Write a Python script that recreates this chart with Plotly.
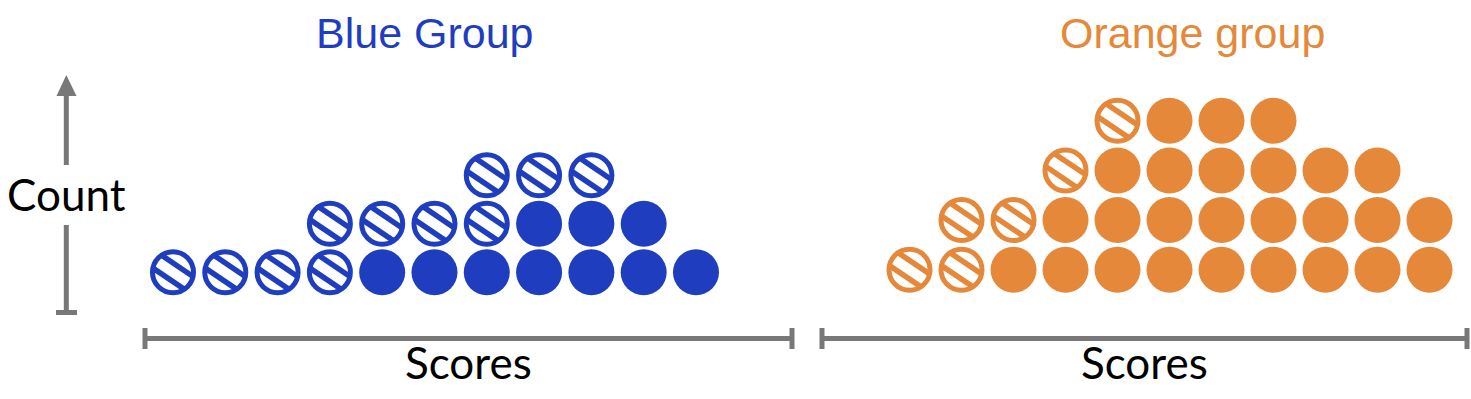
import plotly.graph_objects as go

# ---- data ----
columns = list(range(11))  # score bins
blue_filled = [0, 0, 0, 0, 1, 1, 1, 2, 2, 2, 1]
blue_hatched = [1, 1, 1, 2, 1, 1, 2, 1, 1, 0, 0]
orange_filled = [0, 0, 1, 2, 3, 4, 4, 4, 3, 3, 2]
orange_hatched = [1, 2, 1, 1, 1, 0, 0, 0, 0, 0, 0]

group_titles = ["Blue Group", "Orange group"]
x_label = "Scores"
y_label = "Count"

BLUE = "#1F3EBF"
ORANGE = "#E58839"
GRAY = "#787878"
W, H = 1471, 399


def stack_points(filled, hatched):
    fx, fy, hx, hy = [], [], [], []
    for c, nf, nh in zip(columns, filled, hatched):
        for k in range(nf):
            fx.append(c); fy.append(k + 1)
        for k in range(nh):
            hx.append(c); hy.append(nf + k + 1)
    return fx, fy, hx, hy


fig = go.Figure()

groups = [(blue_filled, blue_hatched, BLUE, "x", "y"),
          (orange_filled, orange_hatched, ORANGE, "x2", "y2")]
for filled, hatched, col, xa, ya in groups:
    fx, fy, hx, hy = stack_points(filled, hatched)
    fig.add_trace(go.Scatter(x=fx, y=fy, mode="markers", xaxis=xa, yaxis=ya,
                             marker=dict(symbol="circle", size=46, color=col, line=dict(width=0)),
                             hoverinfo="skip", showlegend=False))
    # hatched: thick diagonal band, white centre band, ring on top
    fig.add_trace(go.Scatter(x=hx, y=hy, mode="markers", xaxis=xa, yaxis=ya,
                             marker=dict(symbol="line-nw", size=26, color=col, angle=-11,
                                         line=dict(width=21, color=col)),
                             hoverinfo="skip", showlegend=False))
    fig.add_trace(go.Scatter(x=hx, y=hy, mode="markers", xaxis=xa, yaxis=ya,
                             marker=dict(symbol="line-nw", size=30, color="white", angle=-11,
                                         line=dict(width=10, color="white")),
                             hoverinfo="skip", showlegend=False))
    fig.add_trace(go.Scatter(x=hx, y=hy, mode="markers", xaxis=xa, yaxis=ya,
                             marker=dict(symbol="circle-open", size=41, color=col,
                                         line=dict(width=5, color=col)),
                             hoverinfo="skip", showlegend=False))


def py(p):
    return 1 - p / H


def pxx(p):
    return p / W


axis_common = dict(showgrid=False, zeroline=False, showticklabels=False, ticks="",
                   showline=False, fixedrange=True)
fig.update_layout(
    width=W, height=H,
    margin=dict(l=0, r=0, t=0, b=0),
    paper_bgcolor="white", plot_bgcolor="white",
    xaxis=dict(domain=[145 / W, 792 / W], range=[-0.535, 11.836], **axis_common),
    xaxis2=dict(domain=[822 / W, 1467 / W], range=[-1.683, 10.721], **axis_common),
    yaxis=dict(domain=[0, 1], range=[-1.612, 6.614], anchor="x", **axis_common),
    yaxis2=dict(domain=[0, 1], range=[-1.600, 6.429], anchor="x2", **axis_common),
)

shapes = []
for xr in ["x domain", "x2 domain"]:
    shapes.append(dict(type="line", xref=xr, yref="paper", x0=0, x1=1,
                       y0=py(338.5), y1=py(338.5), line=dict(color=GRAY, width=5)))
    for xe in [0, 1]:
        shapes.append(dict(type="line", xref=xr, yref="paper", x0=xe, x1=xe,
                           y0=py(328), y1=py(349), line=dict(color=GRAY, width=5)))
# Count arrow
shapes.append(dict(type="line", xref="paper", yref="paper", x0=pxx(66.3), x1=pxx(66.3),
                   y0=py(94), y1=py(165), line=dict(color=GRAY, width=5)))
shapes.append(dict(type="line", xref="paper", yref="paper", x0=pxx(66.3), x1=pxx(66.3),
                   y0=py(225), y1=py(313), line=dict(color=GRAY, width=5)))
shapes.append(dict(type="line", xref="paper", yref="paper", x0=pxx(56), x1=pxx(77),
                   y0=py(312.5), y1=py(312.5), line=dict(color=GRAY, width=5)))
shapes.append(dict(type="path", xref="paper", yref="paper",
                   path=f"M {pxx(66.3)} {py(75)} L {pxx(56.5)} {py(96)} L {pxx(76.5)} {py(96)} Z",
                   fillcolor=GRAY, line=dict(width=0)))
fig.update_layout(shapes=shapes)

ann = []
ann.append(dict(text=group_titles[0], xref="paper", yref="paper", x=pxx(425), y=py(33),
                xanchor="center", yanchor="middle", showarrow=False,
                font=dict(family="Liberation Sans, Arial", size=43, color=BLUE)))
ann.append(dict(text=group_titles[1], xref="paper", yref="paper", x=pxx(1192), y=py(33),
                xanchor="center", yanchor="middle", showarrow=False,
                font=dict(family="Liberation Sans, Arial", size=43, color=ORANGE)))
ann.append(dict(text=y_label, xref="paper", yref="paper", x=pxx(66.5), y=py(194),
                xanchor="center", yanchor="middle", showarrow=False,
                font=dict(family="Lato", size=44, color="black")))
for xr in ["x domain", "x2 domain"]:
    ann.append(dict(text=x_label, xref=xr, yref="paper", x=0.5, y=py(362),
                    xanchor="center", yanchor="middle", showarrow=False,
                    font=dict(family="Lato", size=44, color="black")))
fig.update_layout(annotations=ann)

fig.write_html("out.html")
